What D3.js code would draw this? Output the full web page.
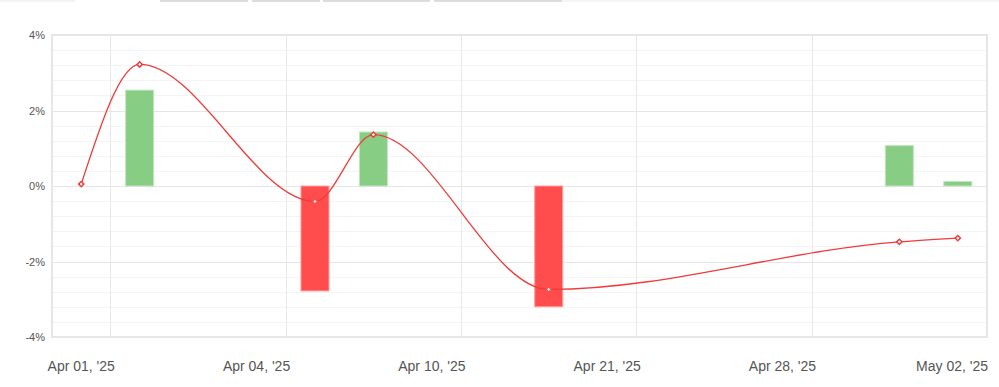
<!DOCTYPE html>
<html>
<head>
<meta charset="utf-8">
<script src="https://cdn.jsdelivr.net/npm/d3@7"></script>
<style>
    body { margin: 0; background: #fff; overflow: hidden; }
    svg { display: block; font-family: 'Liberation Sans', Arial, sans-serif; }
    .ylab { font-size: 11px; fill: #555; }
    .xlab { font-size: 14px; fill: #555; }
</style>
</head>
<body>
<svg id="chart"></svg>
<script>
    const width = 999;
    const height = 387;

    // categories (one per trading day shown)
    const dates = ["Apr 01, '25", "Apr 02, '25", "Apr 03, '25", "Apr 04, '25", "Apr 07, '25", "Apr 08, '25",
        "Apr 10, '25", "Apr 11, '25", "Apr 14, '25", "Apr 21, '25", "Apr 22, '25", "Apr 24, '25",
        "Apr 28, '25", "Apr 29, '25", "Apr 30, '25", "May 02, '25"];

    // bar series (% change), null = no bar
    const barValues = [null, 2.54, null, null, -2.78, 1.43, null, null, -3.2, null, null, null, null, null, 1.07, 0.12];

    // line series (cumulative %), null = no point
    const lineValues = [0.05, 3.22, null, null, -0.41, 1.36, null, null, -2.74, null, null, null, null, null, -1.48, -1.38];

    const yTicks = [-4, -2, 0, 2, 4];
    const xTickEvery = 3;

    const margin = { top: 35, right: 12, bottom: 50, left: 52 };

    const svg = d3.select('#chart').attr('width', width).attr('height', height);

    // faint strip left over from the page above the chart
    const strip = [[0, 75, '#f4f4f4'], [160, 88, '#dcdcdc'], [252, 68, '#dcdcdc'], [323, 107, '#dcdcdc'], [434, 128, '#dcdcdc'], [562, 437, '#f6f6f6']];
    svg.selectAll('.strip').data(strip).enter().append('rect')
        .attr('x', d => d[0]).attr('y', 0).attr('width', d => d[1]).attr('height', 2)
        .attr('fill', d => d[2]);

    const x = d3.scaleBand()
        .domain(d3.range(dates.length))
        .range([margin.left, width - margin.right])
        .padding(0);

    const y = d3.scaleLinear()
        .domain([-4, 4])
        .range([height - margin.bottom, margin.top]);

    const g = svg.append('g');

    // minor horizontal grid every 0.4%
    g.selectAll('.minor').data(d3.range(-4, 4.01, 0.4)).enter().append('line')
        .attr('x1', margin.left).attr('x2', width - margin.right)
        .attr('y1', d => Math.round(y(d)) + 0.5).attr('y2', d => Math.round(y(d)) + 0.5)
        .attr('stroke', '#f4f4f4');

    // major horizontal grid
    g.selectAll('.major').data(yTicks).enter().append('line')
        .attr('x1', margin.left).attr('x2', width - margin.right)
        .attr('y1', d => Math.round(y(d)) + 0.5).attr('y2', d => Math.round(y(d)) + 0.5)
        .attr('stroke', '#e6e6e6');

    // vertical grid between every third category
    const vIdx = d3.range(1, dates.length, xTickEvery);
    g.selectAll('.vgrid').data(vIdx).enter().append('line')
        .attr('x1', d => Math.round(x(d)) + 0.5).attr('x2', d => Math.round(x(d)) + 0.5)
        .attr('y1', margin.top).attr('y2', height - margin.bottom)
        .attr('stroke', '#e8e8e8');

    // frame
    g.append('rect')
        .attr('x', margin.left).attr('y', margin.top)
        .attr('width', width - margin.right - margin.left)
        .attr('height', height - margin.bottom - margin.top)
        .attr('fill', 'none').attr('stroke', '#e6e6e6').attr('stroke-width', 2);

    // y labels
    svg.selectAll('.ylab').data(yTicks).enter().append('text')
        .attr('class', 'ylab')
        .attr('x', 45).attr('y', d => y(d) + 4)
        .attr('text-anchor', 'end')
        .text(d => d + '%');

    // x labels
    const xl = svg.selectAll('.xlab').data(d3.range(0, dates.length, xTickEvery)).enter().append('text')
        .attr('class', 'xlab')
        .attr('x', d => x(d) + x.bandwidth() / 2).attr('y', 371)
        .attr('text-anchor', 'middle')
        .text(d => dates[d]);
    xl.each(function() {
        const w = this.getComputedTextLength();
        const cx = +this.getAttribute('x');
        const maxR = width - margin.right + 1;
        if (cx + w / 2 > maxR) this.setAttribute('x', maxR - w / 2);
    });

    // bars
    const bw = x.bandwidth() * 0.48;
    const bars = barValues.map((v, i) => ({ i, v })).filter(d => d.v !== null);
    g.selectAll('.bar').data(bars).enter().append('rect')
        .attr('x', d => x(d.i) + (x.bandwidth() - bw) / 2)
        .attr('y', d => y(Math.max(0, d.v)))
        .attr('width', bw)
        .attr('height', d => Math.abs(y(d.v) - y(0)))
        .attr('fill', d => d.v >= 0 ? '#88cd84' : '#ff4c4c')
        .attr('stroke', d => d.v >= 0 ? '#c2e6bf' : '#ffa3a3')
        .attr('stroke-width', 1);

    // line
    const pts = lineValues.map((v, i) => ({ i, v })).filter(d => d.v !== null);
    const line = d3.line()
        .x(d => x(d.i) + x.bandwidth() / 2)
        .y(d => y(d.v))
        .curve(d3.curveMonotoneX);

    g.append('path').datum(pts)
        .attr('d', line)
        .attr('fill', 'none')
        .attr('stroke', '#ef3b3b')
        .attr('stroke-width', 1.3);

    g.selectAll('.marker').data(pts).enter().append('path')
        .attr('d', d3.symbol().type(d3.symbolSquare).size(14))
        .attr('transform', d => `translate(${x(d.i) + x.bandwidth() / 2},${y(d.v)}) rotate(45)`)
        .attr('fill', '#fff')
        .attr('stroke', d => {
            const b = barValues[d.i];
            return (b !== null && b < 0) ? '#ff4c4c' : '#ef3b3b';
        })
        .attr('stroke-width', 1.5);
</script>
</body>
</html>
